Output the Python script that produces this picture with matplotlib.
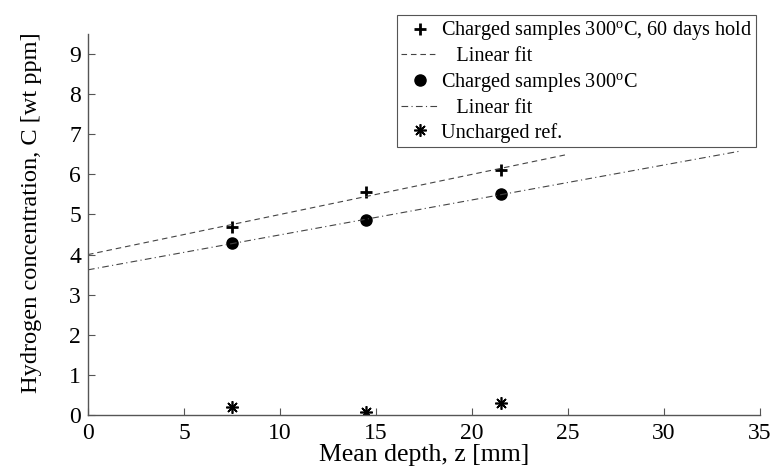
import numpy as np
import matplotlib
matplotlib.use("Agg")
import matplotlib.pyplot as plt

plt.rcParams['font.family'] = ['Liberation Serif', 'DejaVu Serif']
plt.rcParams['mathtext.fontset'] = 'custom'
plt.rcParams['mathtext.rm'] = 'Liberation Serif'

# data
depth = [7.5, 14.5, 21.5]
c_hold = [4.70, 5.55, 6.10]
c_charged = [4.28, 4.87, 5.50]
c_ref = [0.20, 0.07, 0.30]
fit_hold_end = 25.0
fit_charged_end = 34.0
xticks = [0, 5, 10, 15, 20, 25, 30, 35]
yticks = [0, 1, 2, 3, 4, 5, 6, 7, 8, 9]

p_hold = np.polyfit(depth, c_hold, 1)
p_charged = np.polyfit(depth, c_charged, 1)
xh = np.array([0, fit_hold_end])
xc = np.array([0, fit_charged_end])

fig = plt.figure(figsize=(7.73, 4.68), dpi=100)
ax = fig.add_axes([88 / 773, 53 / 468, 672 / 773, 381 / 468])

axcol = '#555555'
ax.plot(depth, c_hold, ls='none', marker='+', ms=8.5, mew=2.0, color='black',
        label='Charged samples 300$^{\\mathrm{o}}$C, 60 days hold')
ax.plot(xh, np.polyval(p_hold, xh), ls=(0, (5, 3.5)), lw=0.8, color='#444444',
        label='   Linear fit')
ax.plot(depth, c_charged, ls='none', marker='o', ms=8, color='black',
        label='Charged samples 300$^{\\mathrm{o}}$C')
ax.plot(xc, np.polyval(p_charged, xc), ls=(0, (6, 3, 1, 3)), lw=0.8,
        color='#444444', label='   Linear fit')
ax.plot(depth, c_ref, ls='none', marker=(8, 2, 0), ms=9, mew=1.2,
        color='black', label='Uncharged ref.')

ax.set_xlim(0, 35)
ax.set_ylim(0, 9.5)
ax.set_xticks(xticks)
ax.set_yticks(yticks)
for s in ['top', 'right']:
    ax.spines[s].set_visible(False)
for s in ['left', 'bottom']:
    ax.spines[s].set_color(axcol)
    ax.spines[s].set_linewidth(1.0)
ax.tick_params(direction='in', length=5, width=0.8, color=axcol, labelsize=17)
ax.tick_params(axis='x', pad=6)
ax.tick_params(axis='y', pad=5)
ax.set_xlabel('Mean depth, z [mm]', fontsize=18.5)
ax.set_ylabel('Hydrogen concentration, C [wt ppm]', fontsize=17.6)
ax.xaxis.set_label_coords(0.5, -0.077)
ax.yaxis.set_label_coords(-0.069, 0.531)

leg = ax.legend(loc='upper right', bbox_to_anchor=(756 / 773, 1 - 15 / 468),
                bbox_transform=fig.transFigure, fontsize=14.6, fancybox=False,
                framealpha=1, edgecolor=axcol, handlelength=1.8,
                handletextpad=0.15, borderpad=0.2, labelspacing=0.22,
                borderaxespad=0)
leg.get_frame().set_linewidth(0.8)

fig.savefig('out.png', dpi=100)
